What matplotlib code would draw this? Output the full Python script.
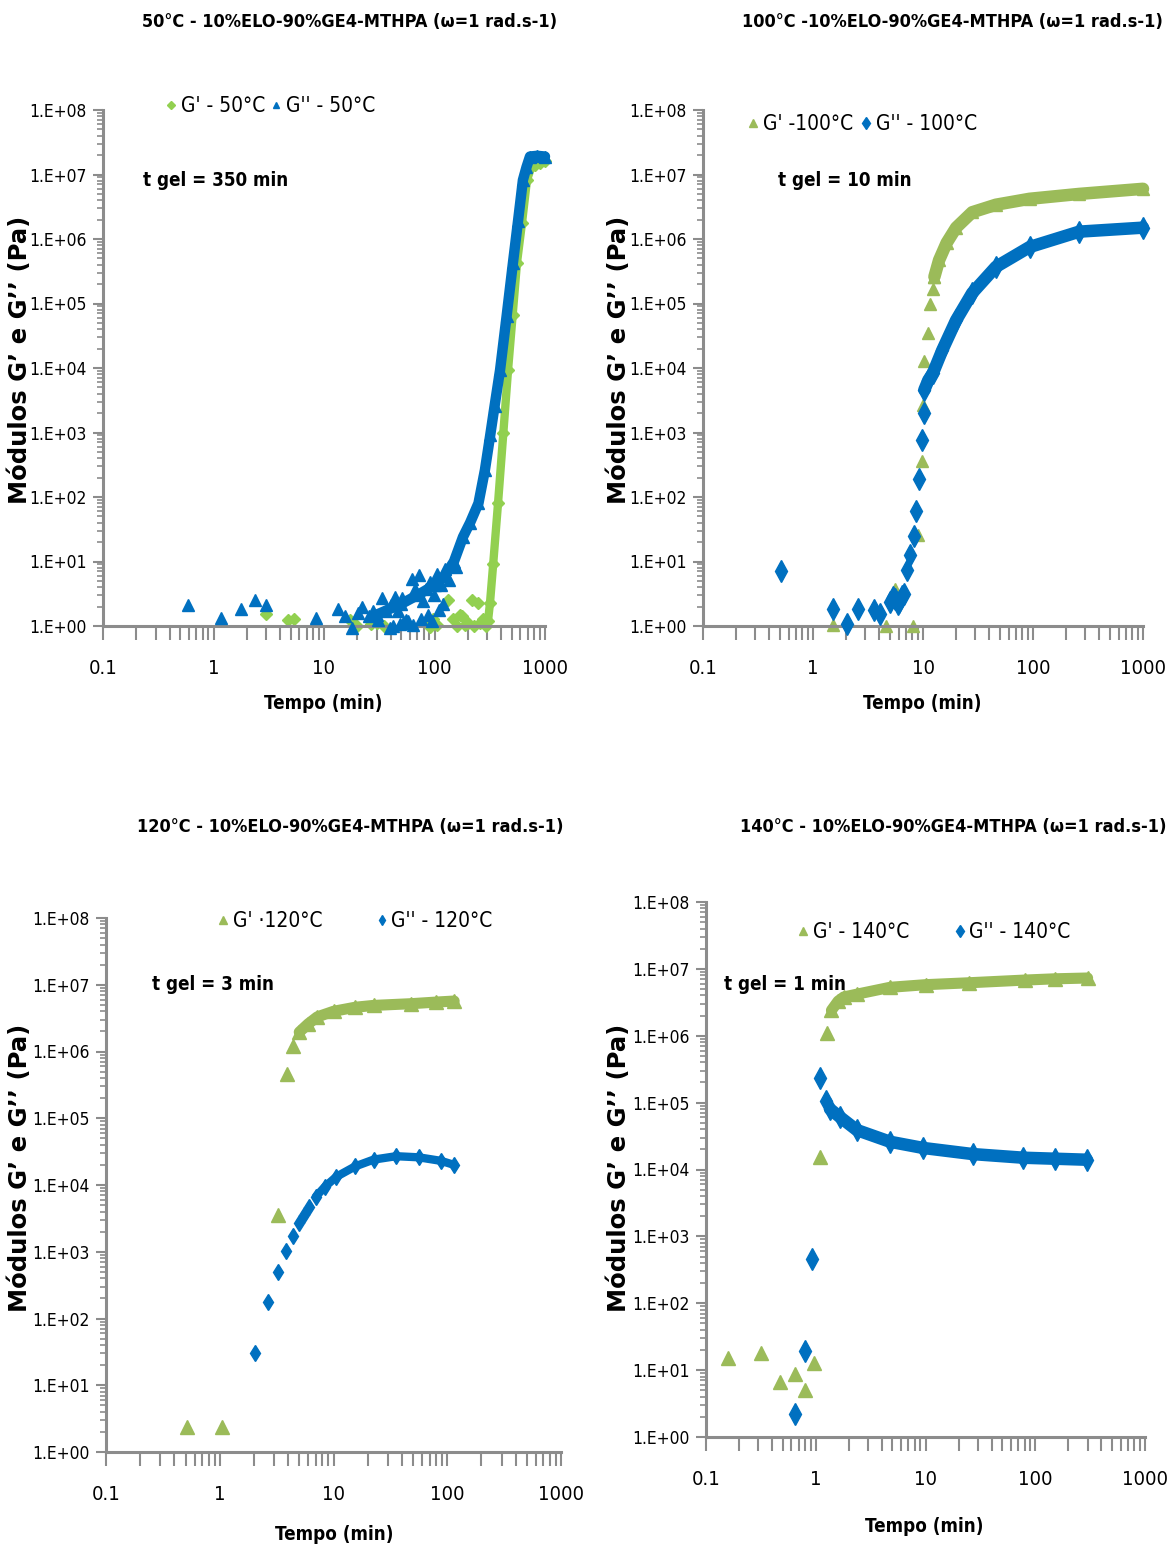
import numpy as np
import matplotlib
matplotlib.use('Agg')
import matplotlib.pyplot as plt
from matplotlib.ticker import LogLocator, NullFormatter

plt.rcParams['font.family'] = ['Liberation Sans Narrow', 'DejaVu Sans']
plt.rcParams['font.stretch'] = 'condensed'

# axis ticks
x_ticks = [0.1, 1, 10, 100, 1000]
x_tick_labels = ['0.1', '1', '10', '100', '1000']
y_ticks = [1e0, 1e1, 1e2, 1e3, 1e4, 1e5, 1e6, 1e7, 1e8]
y_tick_labels = ['1.E+00', '1.E+01', '1.E+02', '1.E+03', '1.E+04',
                 '1.E+05', '1.E+06', '1.E+07', '1.E+08']

# ---- 50 C ----
p1_gp_t = [2.96, 4.75, 5.3, 17.3, 20, 26.5, 30, 35, 85, 92, 97, 105, 132, 148,
           160, 170, 178, 190, 200, 217, 230, 245, 260, 277]
p1_gp_v = [1.56, 1.26, 1.29, 1.26, 1.0, 1.06, 1.1, 1.0, 1.1, 0.95, 1.3, 1.05, 2.5,
           1.3, 1.0, 1.5, 1.42, 1.05, 1.1, 2.5, 1.0, 2.3, 1.1, 1.3]
p1_gp_band_t = [290, 305, 318, 340, 376, 420, 463, 510, 558, 620, 687, 750, 813, 900, 1000]
p1_gp_band_v = [1.0, 1.2, 2.3, 9.3, 81, 1000, 9300, 6.7e4, 4.3e5, 1.8e6, 8.2e6,
                1.3e7, 1.4e7, 1.5e7, 1.6e7]
p1_gpp_t = [0.59, 1.18, 1.77, 2.37, 2.96, 8.4, 13.5, 15.5, 17.8, 20.3, 21.9, 25.6,
            27.5, 31, 33.5, 36.2, 39.5, 40.5, 42, 43.7, 47, 49, 51, 52, 55, 58, 62,
            64, 67, 72, 75, 78, 84.5, 88, 91, 95, 98.7, 106, 110, 115, 120, 124,
            134, 145, 157]
p1_gpp_v = [2.1, 1.34, 1.84, 2.55, 2.09, 1.34, 1.86, 1.42, 0.94, 1.6, 1.95, 1.42,
            1.69, 1.26, 2.7, 1.69, 0.94, 2.14, 1.0, 2.86, 1.69, 1.06, 2.7, 1.1, 1.26,
            1.2, 5.4, 1.05, 3.8, 6.1, 1.3, 2.4, 3.8, 1.5, 4.8, 1.2, 3.0, 6.5, 1.8,
            4.3, 2.2, 7.7, 5.1, 10.3, 8.2]
p1_gpp_band_t = [30, 50, 70, 100, 124, 150, 181, 210, 250, 286, 320, 350, 392, 450,
                 513, 570, 631, 680, 731, 850, 1000]
p1_gpp_band_v = [1.5, 2.2, 3.0, 4.3, 6.0, 10, 24, 40, 80, 263, 930, 2600, 9300,
                 6.5e4, 4.3e5, 1.9e6, 8.2e6, 1.3e7, 1.9e7, 1.95e7, 1.9e7]

# ---- 100 C ----
p2_gp_t = [1.52, 4.6, 5.6, 8.1, 9.1, 9.85, 10.1, 10.3, 11.0, 11.6, 12.3, 12.7]
p2_gp_v = [1.05, 1.0, 3.8, 1.0, 26, 363, 2700, 1.3e4, 3.5e4, 1.0e5, 1.7e5, 2.6e5]
p2_gp_band_t = [12.7, 14, 16.4, 20, 28, 46, 93, 263, 1000]
p2_gp_band_v = [2.6e5, 4.7e5, 8.7e5, 1.5e6, 2.6e6, 3.4e6, 4.2e6, 5.0e6, 6.0e6]
p2_gpp_t = [0.51, 1.52, 2.04, 2.57, 3.55, 4.07, 5.0, 5.3, 5.6, 5.9, 6.07, 6.4, 6.65,
            7.2, 7.6, 8.26, 8.65, 9.2, 9.78, 10.2]
p2_gpp_v = [7.1, 1.84, 1.06, 1.84, 1.78, 1.54, 2.33, 2.8, 2.6, 2.2, 2.33, 2.9, 3.1,
            7.3, 12.5, 25, 61, 191, 755, 2000]
p2_gpp_band_t = [10.3, 11.2, 12.3, 15, 20, 28, 46, 93, 263, 1000]
p2_gpp_band_v = [4.6e3, 6.5e3, 8.3e3, 1.9e4, 5.5e4, 1.45e5, 3.7e5, 7.5e5, 1.3e6, 1.5e6]

# ---- 120 C ----
p3_gp_t = [0.515, 1.05, 3.28, 3.87, 4.43]
p3_gp_v = [2.4, 2.4, 3.5e3, 4.6e5, 1.2e6]
p3_gp_band_t = [5.0, 6.0, 7.2, 10, 15.5, 22.5, 48, 80, 115]
p3_gp_band_v = [1.95e6, 2.6e6, 3.3e6, 4.0e6, 4.6e6, 4.9e6, 5.2e6, 5.5e6, 5.7e6]
p3_gpp_t = [2.04, 2.67, 3.25, 3.84, 4.4, 4.98, 5.48, 6.1]
p3_gpp_v = [30, 174, 490, 1020, 1740, 2660, 3550, 4730]
p3_gpp_band_t = [7.0, 8.4, 10.6, 15.5, 22.5, 35.5, 56, 88, 115]
p3_gpp_band_v = [6700, 9400, 1.33e4, 1.9e4, 2.4e4, 2.7e4, 2.6e4, 2.3e4, 2.0e4]

# ---- 140 C ----
p4_gp_t = [0.16, 0.318, 0.477, 0.645, 0.806, 0.955, 1.09, 1.27]
p4_gp_v = [15, 17.8, 6.7, 8.9, 5.0, 12.6, 1.55e4, 1.1e6]
p4_gp_band_t = [1.39, 1.6, 1.8, 2.4, 4.75, 10, 25, 80, 150, 300]
p4_gp_band_v = [2.4e6, 3.3e6, 3.8e6, 4.2e6, 5.3e6, 5.8e6, 6.2e6, 6.8e6, 7.1e6, 7.3e6]
p4_gpp_t = [0.645, 0.806, 0.92, 1.09, 1.24]
p4_gpp_v = [2.24, 19.3, 460, 2.3e5, 1.07e5]
p4_gpp_band_t = [1.35, 1.66, 2.36, 4.75, 9.5, 27, 78, 150, 295]
p4_gpp_band_v = [8.0e4, 6.1e4, 3.9e4, 2.6e4, 2.1e4, 1.7e4, 1.5e4, 1.45e4, 1.4e4]

blue = '#0070C0'
green_light = '#92D050'
green = '#9BBB59'
grey = '#8c8c8c'
ylab = 'Módulos G’ e G’’ (Pa)'

W, H = 1174, 1552
fig = plt.figure(figsize=(W / 100, H / 100), dpi=100)


def fx(x):
    return x / W


def fy(y):
    return 1 - y / H


def setup(ax, xl_pos, yl_pos):
    ax.set_xscale('log')
    ax.set_yscale('log')
    ax.set_xlim(0.1, 1000)
    ax.set_ylim(1, 1e8)
    for s in ['top', 'right']:
        ax.spines[s].set_visible(False)
    for s in ['left', 'bottom']:
        ax.spines[s].set_color(grey)
        ax.spines[s].set_linewidth(2.2)
    ax.set_xticks(x_ticks)
    ax.set_xticklabels(x_tick_labels)
    ax.set_yticks(y_ticks)
    ax.set_yticklabels(y_tick_labels)
    ax.xaxis.set_minor_locator(LogLocator(base=10, subs=np.arange(2, 10), numticks=100))
    ax.yaxis.set_minor_locator(LogLocator(base=10, subs=np.arange(2, 10), numticks=100))
    ax.xaxis.set_minor_formatter(NullFormatter())
    ax.yaxis.set_minor_formatter(NullFormatter())
    ax.tick_params(axis='x', which='both', direction='out', length=10, width=1.5,
                   color=grey, labelsize=14.5, pad=14)
    ax.tick_params(axis='y', which='major', direction='out', length=7, width=1.5,
                   color=grey, labelsize=12.5, pad=5)
    ax.tick_params(axis='y', which='minor', direction='out', length=4, width=1.2, color=grey)
    ax.set_xlabel('Tempo (min)', fontsize=13.5, fontweight='bold', va='center')
    ax.xaxis.set_label_coords(fx(xl_pos[0]), fy(xl_pos[1]), transform=fig.transFigure)
    ax.set_ylabel(ylab, family='DejaVu Sans', fontstretch='normal', fontsize=17.5,
                  fontweight='bold', va='center')
    ax.yaxis.set_label_coords(fx(yl_pos[0]), fy(yl_pos[1]), transform=fig.transFigure)


def series(ax, t, v, bt, bv, color, marker, ms, lw, label, z):
    ax.plot(bt, bv, '-', lw=lw, color=color, solid_capstyle='round',
            solid_joinstyle='round', clip_on=False, zorder=z)
    ax.plot(bt, bv, ls='none', marker=marker, ms=ms, color=color, clip_on=False, zorder=z)
    h, = ax.plot(t, v, ls='none', marker=marker, ms=ms, color=color, mec=color,
                 clip_on=False, zorder=z, label=label)
    return h


ax1 = fig.add_axes([fx(103), fy(626), 442 / W, 516 / H])
ax2 = fig.add_axes([fx(703), fy(626), 440 / W, 516 / H])
ax3 = fig.add_axes([fx(106), fy(1452), 455 / W, 534 / H])
ax4 = fig.add_axes([fx(706), fy(1437), 439 / W, 535 / H])

setup(ax1, (323, 704), (20, 360))
setup(ax2, (922, 704), (619, 360))
setup(ax3, (334, 1534), (20, 1168))
setup(ax4, (924, 1526), (619, 1168))

leg_kw = dict(loc='center left', bbox_transform=fig.transFigure, ncol=2, frameon=False,
              fontsize=15, markerscale=0.6, handlelength=0.5, handletextpad=0.2,
              borderpad=0, borderaxespad=0)

# panel 1
h1 = series(ax1, p1_gp_t, p1_gp_v, p1_gp_band_t, p1_gp_band_v, green_light, 'D', 6.5, 6, "G' - 50°C", 2)
h2 = series(ax1, p1_gpp_t, p1_gpp_v, p1_gpp_band_t, p1_gpp_band_v, blue, '^', 8, 7.5, "G'' - 50°C", 3)
ax1.legend(handles=[h1, h2], bbox_to_anchor=(fx(166), fy(106)), columnspacing=0.3, **leg_kw)

# panel 2
h1 = series(ax2, p2_gp_t, p2_gp_v, p2_gp_band_t, p2_gp_band_v, green, '^', 9, 9, "G' -100°C", 2)
h2 = series(ax2, p2_gpp_t, p2_gpp_v, p2_gpp_band_t, p2_gpp_band_v, blue, 'd', 11, 9, "G'' - 100°C", 3)
ax2.legend(handles=[h1, h2], bbox_to_anchor=(fx(748), fy(124)), columnspacing=0.4, **leg_kw)

# panel 3
h1 = series(ax3, p3_gp_t, p3_gp_v, p3_gp_band_t, p3_gp_band_v, green, '^', 10, 8, "G' ·120°C", 2)
h2 = series(ax3, p3_gpp_t, p3_gpp_v, p3_gpp_band_t, p3_gpp_band_v, blue, 'd', 8, 6, "G'' - 120°C", 3)
ax3.legend(handles=[h1, h2], bbox_to_anchor=(fx(218), fy(921)), columnspacing=2.6, **leg_kw)

# panel 4
h1 = series(ax4, p4_gp_t, p4_gp_v, p4_gp_band_t, p4_gp_band_v, green, '^', 10, 8, "G' - 140°C", 2)
h2 = series(ax4, p4_gpp_t, p4_gpp_v, p4_gpp_band_t, p4_gpp_band_v, blue, 'd', 11, 9, "G'' - 140°C", 3)
ax4.legend(handles=[h1, h2], bbox_to_anchor=(fx(798), fy(932)), columnspacing=2.2, **leg_kw)

# titles
title_kw = dict(ha='center', va='center', fontsize=13, fontweight='bold')
fig.text(fx(350), fy(22), '50°C - 10%ELO-90%GE4-MTHPA (ω=1 rad.s-1)', **title_kw)
fig.text(fx(952), fy(22), '100°C -10%ELO-90%GE4-MTHPA (ω=1 rad.s-1)', **title_kw)
fig.text(fx(350), fy(827), '120°C - 10%ELO-90%GE4-MTHPA (ω=1 rad.s-1)', **title_kw)
fig.text(fx(953), fy(827), '140°C - 10%ELO-90%GE4-MTHPA (ω=1 rad.s-1)', **title_kw)

# gel times
gel_kw = dict(ha='left', va='center', fontsize=13.5, fontweight='bold')
fig.text(fx(143), fy(181), 't gel = 350 min', **gel_kw)
fig.text(fx(778), fy(181), 't gel = 10 min', **gel_kw)
fig.text(fx(152), fy(985), 't gel = 3 min', **gel_kw)
fig.text(fx(724), fy(985), 't gel = 1 min', **gel_kw)

fig.savefig('out.png', dpi=100)
